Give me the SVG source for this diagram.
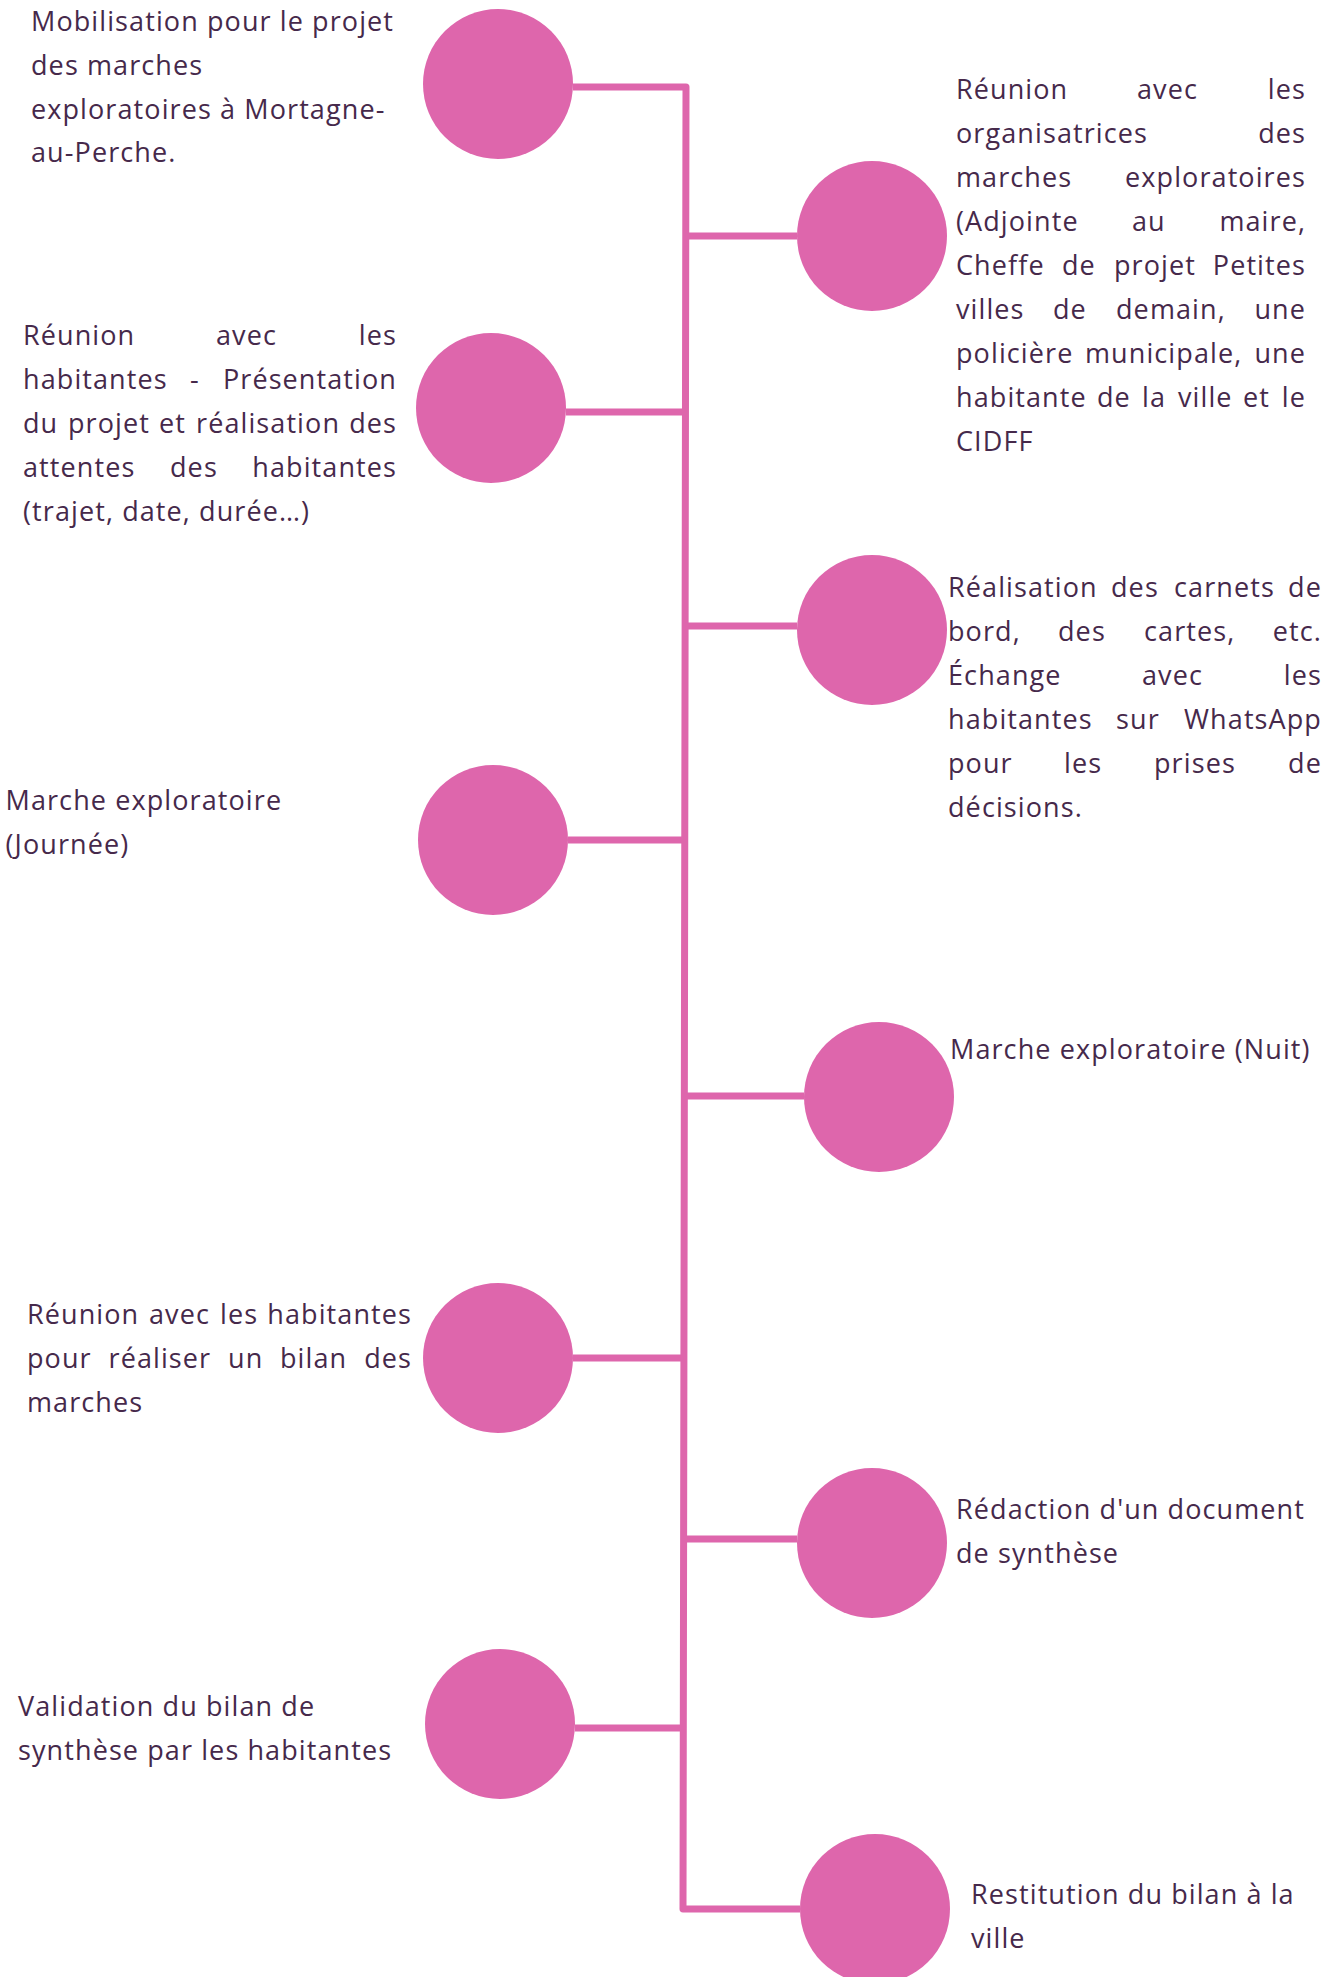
<svg xmlns="http://www.w3.org/2000/svg" width="1330" height="1977" viewBox="0 0 1330 1977">
<style>
.t { font-family: "Open Sans", "Liberation Sans", sans-serif; font-size: 27px; letter-spacing: 1.1px; fill: #46294b; }
.e { text-anchor: end; }
.c { fill: #DE66AC; }
.ln { stroke: #DE66AC; stroke-width: 7; fill: none; stroke-linejoin: round; stroke-linecap: butt; }
</style>
<rect width="1330" height="1977" fill="#ffffff"/>
<g id="connectors">
<path class="ln" d="M 573 87 H 686 L 683 1909 H 800"/>
<path class="ln" d="M 686 236 H 797"/>
<path class="ln" d="M 566 412 H 686"/>
<path class="ln" d="M 685.5 626 H 797"/>
<path class="ln" d="M 568 840 H 685"/>
<path class="ln" d="M 685 1096 H 804"/>
<path class="ln" d="M 573 1358 H 684"/>
<path class="ln" d="M 684 1539 H 797"/>
<path class="ln" d="M 575 1728 H 684"/>
</g>
<g id="node1">
<circle class="c" cx="498" cy="84" r="75"/>
<text class="t" x="31" y="31">Mobilisation pour le projet</text>
<text class="t" x="31" y="75">des marches</text>
<text class="t" x="31" y="119">exploratoires à Mortagne-</text>
<text class="t" x="31" y="162">au-Perche.</text>
</g>
<g id="node2">
<circle class="c" cx="872" cy="236" r="75"/>
<text class="t" y="99"><tspan x="956">Réunion</tspan><tspan x="1137">avec</tspan><tspan class="e" x="1306">les</tspan></text>
<text class="t" y="143"><tspan x="956">organisatrices</tspan><tspan class="e" x="1306">des</tspan></text>
<text class="t" y="187"><tspan x="956">marches</tspan><tspan class="e" x="1306">exploratoires</tspan></text>
<text class="t" y="231"><tspan x="956">(Adjointe</tspan><tspan x="1132">au</tspan><tspan class="e" x="1306">maire,</tspan></text>
<text class="t" y="275"><tspan x="956">Cheffe</tspan><tspan x="1062">de</tspan><tspan x="1114">projet</tspan><tspan class="e" x="1306">Petites</tspan></text>
<text class="t" y="319"><tspan x="956">villes</tspan><tspan x="1053">de</tspan><tspan x="1116">demain,</tspan><tspan class="e" x="1306">une</tspan></text>
<text class="t" y="363"><tspan x="956">policière</tspan><tspan x="1085">municipale,</tspan><tspan class="e" x="1306">une</tspan></text>
<text class="t" y="407"><tspan x="956">habitante</tspan><tspan x="1097">de</tspan><tspan x="1142">la</tspan><tspan x="1178">ville</tspan><tspan x="1243">et</tspan><tspan class="e" x="1306">le</tspan></text>
<text class="t" x="956" y="451">CIDFF</text>
</g>
<g id="node3">
<circle class="c" cx="491" cy="408" r="75"/>
<text class="t" y="345"><tspan x="23">Réunion</tspan><tspan x="216">avec</tspan><tspan class="e" x="397">les</tspan></text>
<text class="t" y="389"><tspan x="23">habitantes</tspan><tspan x="190">-</tspan><tspan class="e" x="397">Présentation</tspan></text>
<text class="t" y="433"><tspan x="23">du</tspan><tspan x="68">projet</tspan><tspan x="159">et</tspan><tspan x="196">réalisation</tspan><tspan class="e" x="397">des</tspan></text>
<text class="t" y="477"><tspan x="23">attentes</tspan><tspan x="170">des</tspan><tspan class="e" x="397">habitantes</tspan></text>
<text class="t" x="23" y="521">(trajet, date, durée…)</text>
</g>
<g id="node4">
<circle class="c" cx="872" cy="630" r="75"/>
<text class="t" y="597"><tspan x="948">Réalisation</tspan><tspan x="1111">des</tspan><tspan x="1174">carnets</tspan><tspan class="e" x="1322">de</tspan></text>
<text class="t" y="641"><tspan x="948">bord,</tspan><tspan x="1058">des</tspan><tspan x="1144">cartes,</tspan><tspan class="e" x="1322">etc.</tspan></text>
<text class="t" y="685"><tspan x="948">Échange</tspan><tspan x="1142">avec</tspan><tspan class="e" x="1322">les</tspan></text>
<text class="t" y="729"><tspan x="948">habitantes</tspan><tspan x="1116">sur</tspan><tspan class="e" x="1322">WhatsApp</tspan></text>
<text class="t" y="773"><tspan x="948">pour</tspan><tspan x="1064">les</tspan><tspan x="1154">prises</tspan><tspan class="e" x="1322">de</tspan></text>
<text class="t" x="948" y="817">décisions.</text>
</g>
<g id="node5">
<circle class="c" cx="493" cy="840" r="75"/>
<text class="t" x="5.5" y="810">Marche exploratoire</text>
<text class="t" x="5.5" y="854">(Journée)</text>
</g>
<g id="node6">
<circle class="c" cx="879" cy="1097" r="75"/>
<text class="t" x="950" y="1059">Marche exploratoire (Nuit)</text>
</g>
<g id="node7">
<circle class="c" cx="498" cy="1358" r="75"/>
<text class="t" y="1324"><tspan x="27">Réunion</tspan><tspan x="149">avec</tspan><tspan x="220">les</tspan><tspan class="e" x="412">habitantes</tspan></text>
<text class="t" y="1368"><tspan x="27">pour</tspan><tspan x="108.5">réaliser</tspan><tspan x="228">un</tspan><tspan x="280">bilan</tspan><tspan class="e" x="412">des</tspan></text>
<text class="t" x="27" y="1412">marches</text>
</g>
<g id="node8">
<circle class="c" cx="872" cy="1543" r="75"/>
<text class="t" x="956" y="1519">Rédaction d'un document</text>
<text class="t" x="956" y="1563">de synthèse</text>
</g>
<g id="node9">
<circle class="c" cx="500" cy="1724" r="75"/>
<text class="t" x="18" y="1716">Validation du bilan de</text>
<text class="t" x="18" y="1760">synthèse par les habitantes</text>
</g>
<g id="node10">
<circle class="c" cx="875" cy="1909" r="75"/>
<text class="t" x="971" y="1904">Restitution du bilan à la</text>
<text class="t" x="971" y="1948">ville</text>
</g>
</svg>
